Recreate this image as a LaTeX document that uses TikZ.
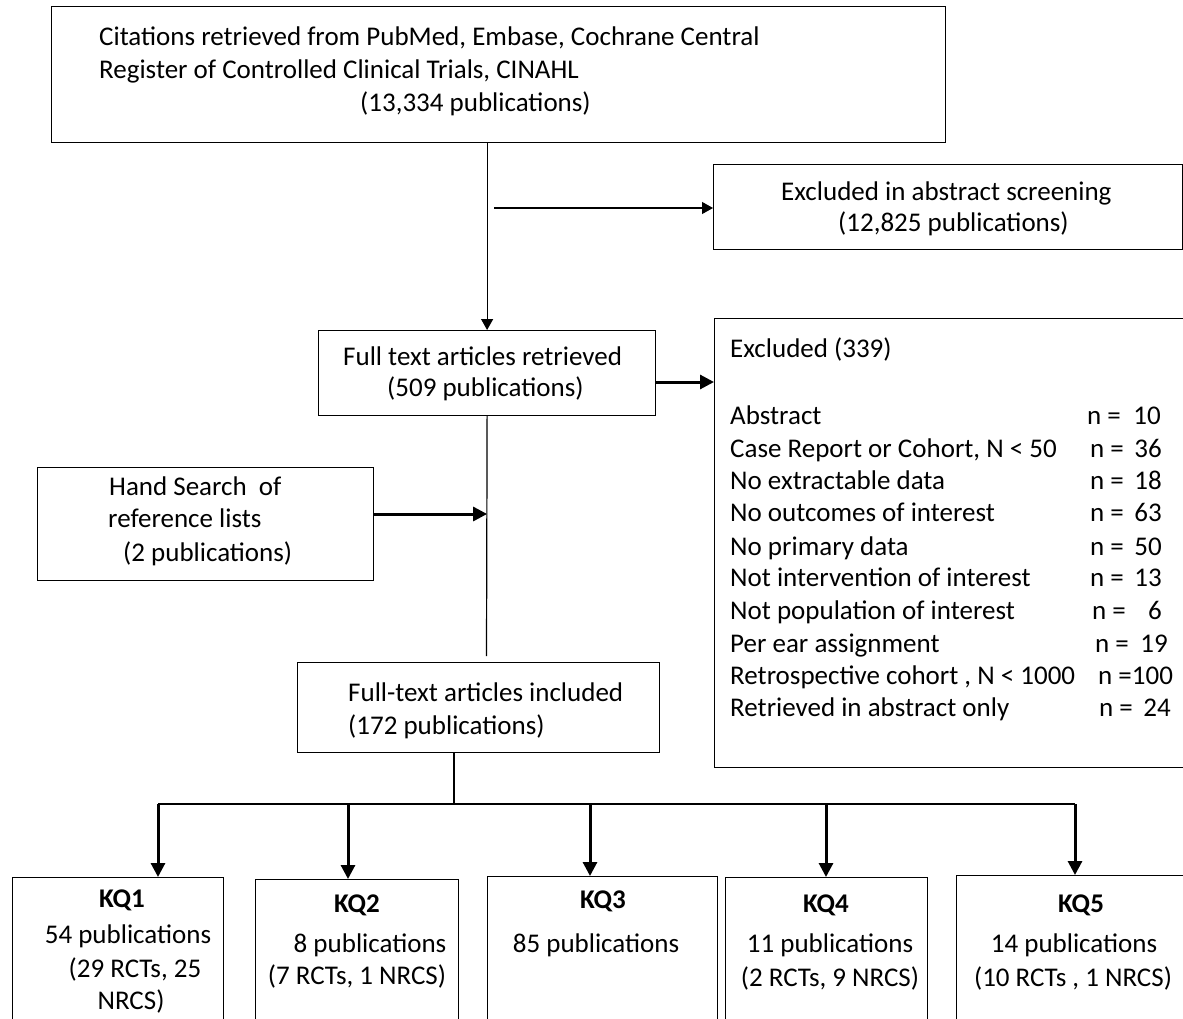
\documentclass[tikz,border=0pt]{standalone}
\usepackage{fontspec}
\setmainfont{Carlito}
\usetikzlibrary{arrows.meta}
\begin{document}
\begin{tikzpicture}[x=1pt,y=-1pt,
  box/.style={draw, line width=1.2pt, inner sep=0pt, anchor=north west},
  txt/.style={inner sep=0pt, font=\fontsize{27}{33}\selectfont, anchor=base west},
  ctxt/.style={txt, anchor=base},
  rtxt/.style={txt, anchor=base east},
  ktxt/.style={ctxt, font=\fontsize{27}{33}\selectfont\bfseries},
  plainline/.style={line width=1.2pt},
  arrthin/.style={line width=1.2pt, -{Triangle[length=11pt,width=12pt]}},
  arrthick/.style={line width=3pt, -{Triangle[length=14pt,width=14pt]}},
]
\useasboundingbox[fill=white] (0,0) rectangle (1183,1019);

% boxes
\node[box, minimum width=894pt, minimum height=136pt] (top) at (51,6) {};
\node[box, minimum width=469pt, minimum height=85pt] (exab) at (713,164) {};
\node[box, minimum width=337pt, minimum height=85pt] (full) at (318,330) {};
\node[box, minimum width=480pt, minimum height=449pt] (exc) at (714,318) {};
\node[box, minimum width=336pt, minimum height=113pt] (hand) at (37,467) {};
\node[box, minimum width=362pt, minimum height=90pt] (incl) at (297,662) {};
\node[box, minimum width=211pt, minimum height=160pt] (kq1) at (12,877) {};
\node[box, minimum width=203pt, minimum height=160pt] (kq2) at (255,879) {};
\node[box, minimum width=230pt, minimum height=160pt] (kq3) at (487,876) {};
\node[box, minimum width=202pt, minimum height=160pt] (kq4) at (725,877) {};
\node[box, minimum width=240pt, minimum height=160pt] (kq5) at (956,875) {};

% texts
\node[txt] (t1) at (99,46) {Citations retrieved from PubMed, Embase, Cochrane Central};
\node[txt] (t2) at (99,79) {Register of Controlled Clinical Trials, CINAHL};
\node[txt] (t3) at (360,112) {(13,334 publications)};

\node[txt] (e1) at (781,201) {Excluded in abstract screening};
\node[txt] (e2) at (838,232) {(12,825 publications)};

\node[txt] (f1) at (343,365) {Full text articles retrieved};
\node[txt] (f2) at (387,396) {(509 publications)};

\node[txt] (x0) at (730,357) {Excluded (339)};
\node[txt] (x1) at (730,424) {Abstract};
\node[txt] (x2) at (730,457) {Case Report or Cohort, N < 50};
\node[txt] (x3) at (730,489) {No extractable data};
\node[txt] (x4) at (730,521) {No outcomes of interest};
\node[txt] (x5) at (730,555) {No primary data};
\node[txt] (x6) at (730,586) {Not intervention of interest};
\node[txt] (x7) at (730,619) {Not population of interest};
\node[txt] (x8) at (730,652) {Per ear assignment};
\node[txt] (x9) at (730,684) {Retrospective cohort , N < 1000};
\node[txt] (x10) at (730,716) {Retrieved in abstract only};

\node[txt] (n1) at (1087,424) {n =};  \node[rtxt] (v1) at (1161,424) {10};
\node[txt] (n2) at (1090,457) {n =};  \node[rtxt] (v2) at (1162,457) {36};
\node[txt] (n3) at (1090,489) {n =};  \node[rtxt] (v3) at (1162,489) {18};
\node[txt] (n4) at (1090,521) {n =};  \node[rtxt] (v4) at (1162,521) {63};
\node[txt] (n5) at (1090,555) {n =};  \node[rtxt] (v5) at (1162,555) {50};
\node[txt] (n6) at (1090,586) {n =};  \node[rtxt] (v6) at (1162,586) {13};
\node[txt] (n7) at (1092,619) {n =};  \node[rtxt] (v7) at (1162,619) {6};
\node[txt] (n8) at (1095,652) {n =};  \node[rtxt] (v8) at (1168,652) {19};
\node[txt] (n9) at (1098,684) {n =100};
\node[txt] (n10) at (1099,716) {n =};  \node[rtxt] (v10) at (1171,716) {24};

\node[txt] (h1) at (109,495) {Hand Search~ of};
\node[txt] (h2) at (108,527) {reference lists};
\node[txt] (h3) at (123,561) {(2 publications)};

\node[txt] (i1) at (348,701) {Full-text articles included};
\node[txt] (i2) at (348,734) {(172 publications)};

\node[ktxt] (k1a) at (122,907) {KQ1};
\node[ctxt] (k1b) at (128,943) {54 publications};
\node[ctxt] (k1c) at (135,977) {(29 RCTs, 25};
\node[ctxt] (k1d) at (131,1009) {NRCS)};

\node[ktxt] (k2a) at (357,912) {KQ2};
\node[ctxt] (k2b) at (370,952) {8 publications};
\node[ctxt] (k2c) at (357,984) {(7 RCTs, 1 NRCS)};

\node[ktxt] (k3a) at (603,908) {KQ3};
\node[ctxt] (k3b) at (596,952) {85 publications};

\node[ktxt] (k4a) at (826,912) {KQ4};
\node[ctxt] (k4b) at (830,952) {11 publications};
\node[ctxt] (k4c) at (830,986) {(2 RCTs, 9 NRCS)};

\node[ktxt] (k5a) at (1081,912) {KQ5};
\node[ctxt] (k5b) at (1074,952) {14 publications};
\node[ctxt] (k5c) at (1073,986) {(10 RCTs , 1 NRCS)};

% connector coordinates
\coordinate (j1) at (494,208);
\coordinate (j2) at (655,382);
\coordinate (j3) at (486.5,656);
\coordinate (j4) at (373,514);
\coordinate (j5) at (454,752);
\coordinate (b1) at (158,804);
\coordinate (b2) at (348,804);
\coordinate (b3) at (590,804);
\coordinate (b4) at (826,804);
\coordinate (b5) at (1075,804);

% connectors
\draw[arrthin] (top.south -| full.north) -- (full.north);
\draw[arrthin] (j1) -- (j1 -| exab.west);
\draw[arrthick] (j2) -- (j2 -| exc.west);
\draw[plainline] (full.south) -- (j3);
\draw[arrthick] (j4) -- (j4 -| full.south);
\draw[plainline] (j5) -- (j5 |- b1);
\draw[plainline] (b1) -- (b5);
\draw[arrthick] (b1) -- (b1 |- kq1.north);
\draw[arrthick] (b2) -- (b2 |- kq2.north);
\draw[arrthick] (b3) -- (b3 |- kq3.north);
\draw[arrthick] (b4) -- (b4 |- kq4.north);
\draw[arrthick] (b5) -- (b5 |- kq5.north);
\end{tikzpicture}
\end{document}
